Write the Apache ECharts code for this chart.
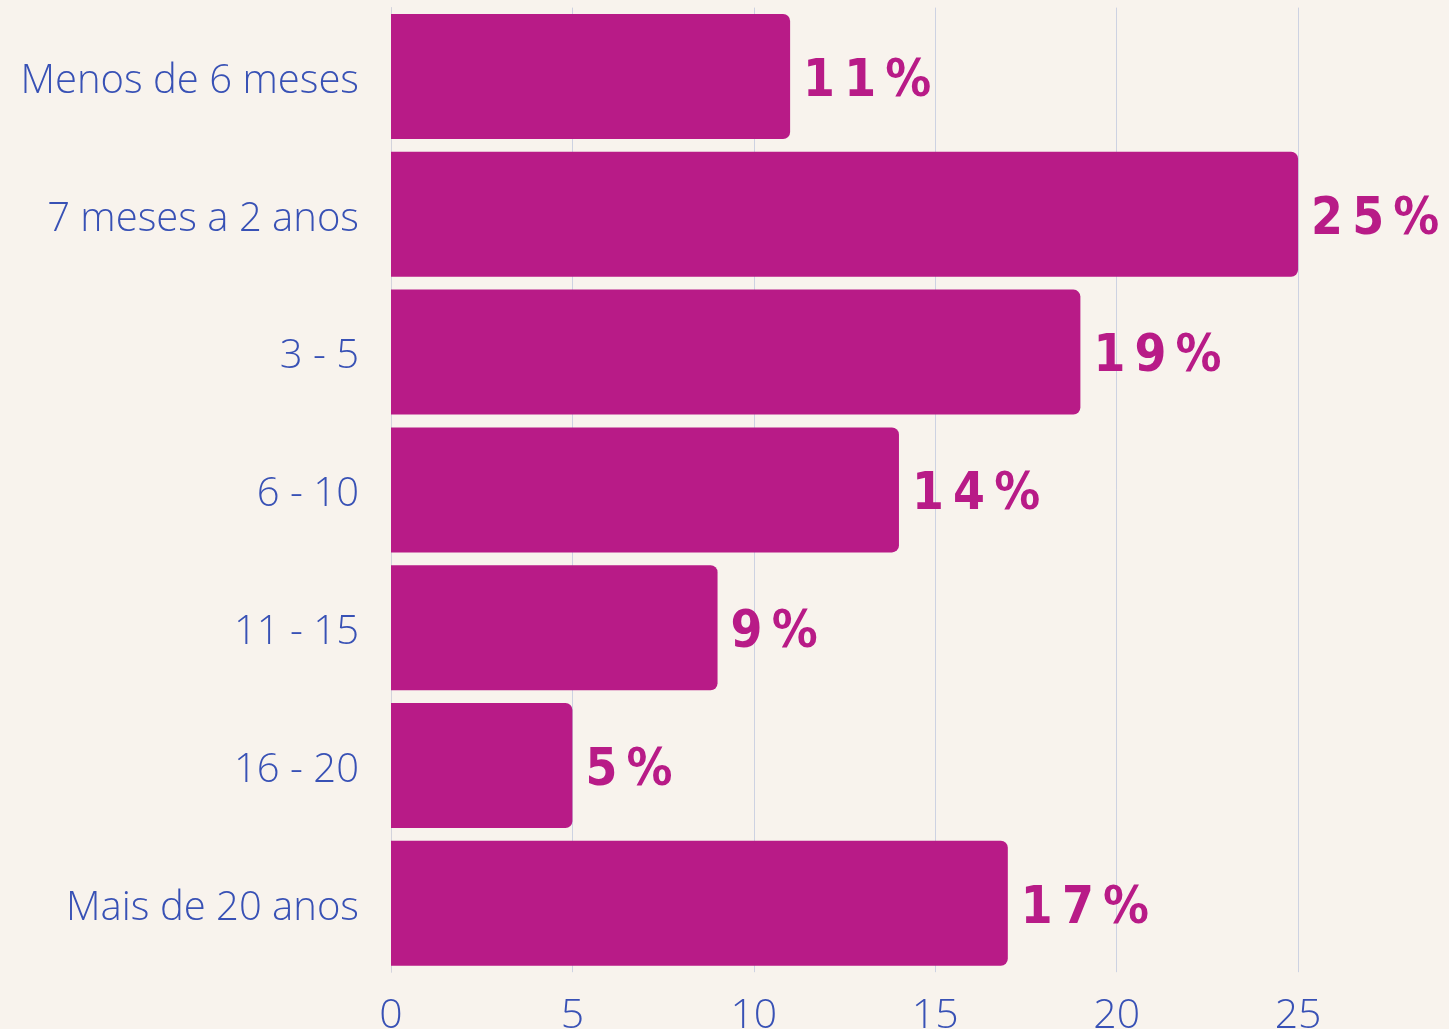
<!doctype html>
<html>
<head>
<meta charset="utf-8">
<title>Tempo</title>
<style>
	html,body{margin:0;padding:0;background:#f8f3ed;}
	#chart{width:1449px;height:1029px;}
</style>
</head>
<body>
	<div id="chart"></div>
	<script src="https://cdn.jsdelivr.net/npm/echarts@6/dist/echarts.min.js"></script>
	<script type="text/javascript">
		// dados
		var categorias = ['Menos de 6 meses','7 meses a 2 anos','3 - 5','6 - 10','11 - 15','16 - 20','Mais de 20 anos'];
		var valores = [11, 25, 19, 14, 9, 5, 17];
		var ticksX = [0, 5, 10, 15, 20, 25];

		var chart = echarts.init(document.getElementById('chart'));
		var option = {
			backgroundColor: '#f8f3ed',
			animation: false,
			grid: {
				top: 7.6,
				left: 391,
				right: -30.5,
				bottom: 56.8,
				containLabel: false,
				outerBoundsMode: 'none'
			},
			xAxis: {
				type: 'value',
				min: 0,
				max: 30,
				interval: 5,
				axisLine: { show: false },
				axisTick: { show: false },
				splitLine: {
					show: true,
					lineStyle: { color: '#cdd2e2', width: 1 }
				},
				axisLabel: {
					margin: 24,
					color: '#3851b5',
					fontFamily: 'Open Sans',
					fontWeight: 300,
					fontSize: 41,
					formatter: function (v) {
						return ticksX.indexOf(v) >= 0 ? String(v) : '';
					}
				}
			},
			yAxis: {
				type: 'category',
				inverse: true,
				data: categorias,
				axisLine: { show: true, lineStyle: { color: '#d3d3dc', width: 1 } },
				axisTick: { show: false },
				splitLine: { show: false },
				axisLabel: {
					margin: 32,
					color: '#3851b5',
					fontFamily: 'Open Sans',
					fontWeight: 300,
					fontSize: 40,
					verticalAlign: 'top',
					lineHeight: 10
				}
			},
			series: [{
				type: 'bar',
				data: valores,
				barCategoryGap: '9.3%',
				itemStyle: {
					color: '#b81b87',
					borderRadius: [0, 7, 7, 0]
				},
				label: {
					show: true,
					position: 'right',
					distance: 13,
					offset: [0, 6],
					color: '#b81b87',
					fontFamily: 'DejaVu Sans Condensed',
					fontWeight: 'bold',
					fontSize: 51,
					formatter: function (p) {
						return String(p.value).split('').join('\u2009') + '\u2009%';
					}
				}
			}]
		};
		chart.setOption(option);
	</script>
</body>
</html>
